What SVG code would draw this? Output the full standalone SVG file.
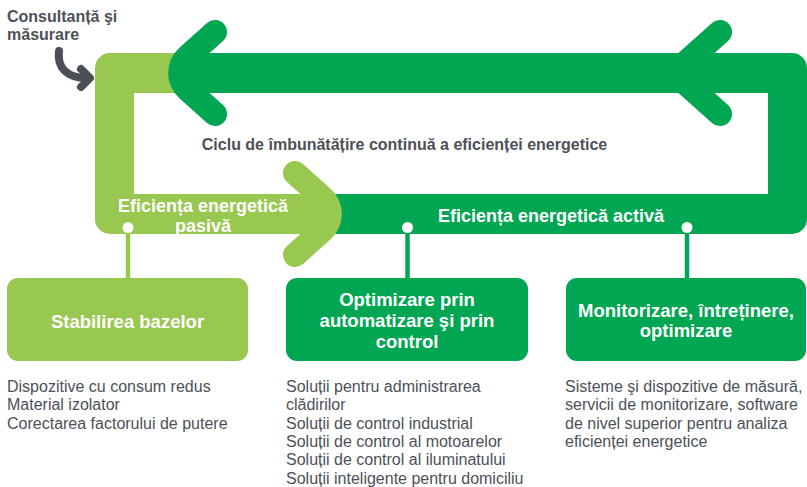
<svg xmlns="http://www.w3.org/2000/svg" width="807" height="487" viewBox="0 0 807 487">
<style>
text{font-family:"Liberation Sans",Arial,sans-serif}
.lg{fill:#98c850}
.dg{fill:#00a651}
.w{fill:#fff;font-weight:bold;text-anchor:middle}
.t{font-size:18px}
.bt{font-size:18.5px}
.g{fill:#4d5157;font-weight:bold}
.b{fill:#4d5157;font-size:16px}
.ln{stroke-width:4.5;fill:none}
</style>
<rect width="807" height="487" fill="#fff"/>
<g id="cycle">
<path class="lg" d="M200,53 H110 A15 15 0 0 0 95,68 V219 A15 15 0 0 0 110,234 H310 V194 H134 V93 H200 Z"/>
<path class="dg" d="M200,53 H792 A15 15 0 0 1 807,68 V219 A15 15 0 0 1 792,234 H305 V194 H768 V93 H200 Z"/>
<path class="dg" d="M179.4,47.7 L207,23 A12 12 0 0 1 223,41 L209.6,53 L209.6,93 L223,105 A12 12 0 0 1 207,123 L179.4,98.3 A34 34 0 0 1 179.4,47.7 Z"/>
<path class="dg" d="M712,23 A12 12 0 0 1 728,41 L714.6,53 L714.6,93 L728,105 A12 12 0 0 1 712,123 L656,73 Z"/>
<path class="lg" d="M330.6,188.7 L303,164 A12 12 0 0 0 287,182 L300.4,194 L300.4,234 L287,246 A12 12 0 0 0 303,264 L330.6,239.3 A34 34 0 0 0 330.6,188.7 Z"/>
<text class="g" x="404.5" y="150" font-size="16" text-anchor="middle">Ciclu de îmbunătățire continuă a eficienței energetice</text>
<text class="w t" x="203" y="212">Eficiența energetică</text>
<text class="w t" x="203" y="232">pasivă</text>
<text class="w t" x="551" y="222">Eficiența energetică activă</text>
</g>
<g id="consultanta">
<text class="g" font-size="16"><tspan x="7" y="22">Consultanță şi</tspan><tspan x="7" y="40">măsurare</tspan></text>
<path d="M59,51 C57,67 66,78 87,78" stroke="#4a4f56" stroke-width="8" stroke-linecap="round" fill="none"/>
<polyline points="81,69 90,78 81,87" stroke="#4a4f56" stroke-width="8" stroke-linecap="round" stroke-linejoin="round" fill="none"/>
</g>
<g id="connectors">
<line class="ln" x1="128" y1="227" x2="128" y2="279" stroke="#98c850"/>
<line class="ln" x1="407.5" y1="227" x2="407.5" y2="279" stroke="#00a651"/>
<line class="ln" x1="687" y1="227" x2="687" y2="279" stroke="#00a651"/>
<circle cx="128" cy="227.5" r="5.5" fill="#fff"/>
<circle cx="407.5" cy="227.5" r="5.5" fill="#fff"/>
<circle cx="687" cy="227.5" r="5.5" fill="#fff"/>
</g>
<g id="box-stabilirea">
<rect class="lg" x="7" y="278" width="241" height="83" rx="11"/>
<text class="w bt" x="127.5" y="327.5">Stabilirea bazelor</text>
<text class="b"><tspan x="7" y="392">Dispozitive cu consum redus</tspan><tspan x="7" y="410.3">Material izolator</tspan><tspan x="7" y="428.6">Corectarea factorului de putere</tspan></text>
</g>
<g id="box-optimizare">
<rect class="dg" x="286" y="278" width="242" height="83" rx="11"/>
<text class="w bt"><tspan x="407" y="306">Optimizare prin</tspan><tspan x="407" y="327">automatizare şi prin</tspan><tspan x="407" y="347.5">control</tspan></text>
<text class="b"><tspan x="286" y="392">Soluții pentru administrarea</tspan><tspan x="286" y="410.3">clădirilor</tspan><tspan x="286" y="428.6">Soluții de control industrial</tspan><tspan x="286" y="446.9">Soluții de control al motoarelor</tspan><tspan x="286" y="465.2">Soluții de control al iluminatului</tspan><tspan x="286" y="483.5">Soluții inteligente pentru domiciliu</tspan></text>
</g>
<g id="box-monitorizare">
<rect class="dg" x="566" y="278" width="240" height="83" rx="11"/>
<text class="w bt"><tspan x="686" y="316.5">Monitorizare, întreținere,</tspan><tspan x="686" y="337">optimizare</tspan></text>
<text class="b"><tspan x="565" y="392">Sisteme şi dispozitive de măsură,</tspan><tspan x="565" y="410.3">servicii de monitorizare, software</tspan><tspan x="565" y="428.6">de nivel superior pentru analiza</tspan><tspan x="565" y="446.9">eficienței energetice</tspan></text>
</g>
</svg>
